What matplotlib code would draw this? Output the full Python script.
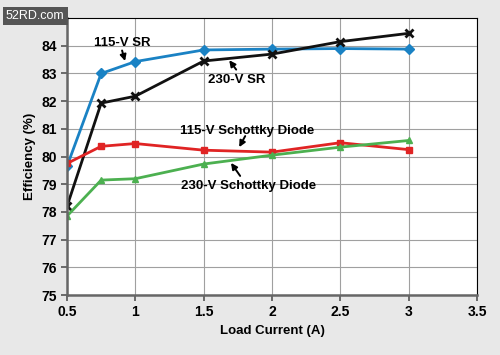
import matplotlib
matplotlib.use("Agg")
import matplotlib.pyplot as plt

plt.rcParams['font.family'] = ['Liberation Sans', 'DejaVu Sans']
plt.rcParams['font.weight'] = 'bold'

load = [0.5, 0.75, 1, 1.5, 2, 2.5, 3]
sr_115 = [79.65, 83.0, 83.43, 83.85, 83.88, 83.9, 83.88]
sr_230 = [78.2, 81.93, 82.18, 83.45, 83.7, 84.15, 84.45]
schottky_115 = [79.75, 80.37, 80.47, 80.23, 80.16, 80.5, 80.25]
schottky_230 = [77.85, 79.15, 79.2, 79.73, 80.05, 80.34, 80.58]

fig = plt.figure(figsize=(5, 3.55), dpi=100, facecolor="#e8e8e8")
ax = fig.add_axes([0.134, 0.169, 0.82, 0.78])
ax.set_facecolor("white")

ax.plot(load, sr_115, color="#1a82c4", marker="D", ms=5, lw=2)
ax.plot(load, sr_230, color="#111111", marker="x", ms=6, mew=2, lw=2)
ax.plot(load, schottky_115, color="#e02424", marker="s", ms=5, lw=2)
ax.plot(load, schottky_230, color="#4cb050", marker="^", ms=5, lw=2)

ax.set_xlim(0.5, 3.5)
ax.set_ylim(75, 85)
ax.set_xticks([0.5, 1, 1.5, 2, 2.5, 3, 3.5])
ax.set_xticklabels(["0.5", "1", "1.5", "2", "2.5", "3", "3.5"])
ax.set_yticks(range(75, 85))
ax.grid(True, color="#a0a0a0", lw=0.8)
ax.tick_params(labelsize=10, direction="out", length=4, width=1.2, color="#555555")
for s in ["left", "bottom"]:
    ax.spines[s].set_color("#666666")
    ax.spines[s].set_linewidth(1.8)
for s in ["top", "right"]:
    ax.spines[s].set_color("black")
    ax.spines[s].set_linewidth(0.8)

ax.set_xlabel("Load Current (A)", fontsize=9.5, fontweight="bold")
ax.set_ylabel("Efficiency (%)", fontsize=9.5, fontweight="bold")

arrow = dict(arrowstyle="-|>", color="black", lw=1.4, mutation_scale=9,
             shrinkA=0, shrinkB=0)
ax.text(0.903, 84.1, "115-V SR", ha="center", va="center", fontsize=9.5)
ax.annotate("", xy=(0.925, 83.45), xytext=(0.903, 83.83), arrowprops=arrow)
ax.text(1.745, 82.76, "230-V SR", ha="center", va="center", fontsize=9.5)
ax.annotate("", xy=(1.687, 83.48), xytext=(1.738, 83.14), arrowprops=arrow)
ax.text(1.819, 80.92, "115-V Schottky Diode", ha="center", va="center", fontsize=9.5)
ax.annotate("", xy=(1.76, 80.34), xytext=(1.804, 80.74), arrowprops=arrow)
ax.text(1.826, 78.94, "230-V Schottky Diode", ha="center", va="center", fontsize=9.5)
ax.annotate("", xy=(1.70, 79.77), xytext=(1.767, 79.30), arrowprops=arrow)

fig.text(0.012, 0.955, "52RD.com", color="white", fontsize=9, fontweight="normal",
         va="center", ha="left",
         bbox=dict(boxstyle="square,pad=0.25", fc="#555555", ec="none"))

fig.savefig("out.png", dpi=100, facecolor=fig.get_facecolor())
